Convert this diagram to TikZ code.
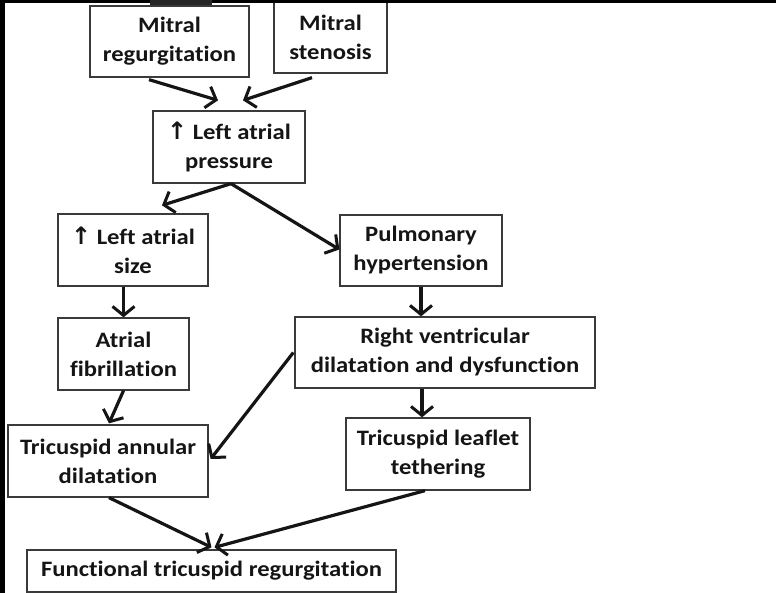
\documentclass[tikz,border=0pt]{standalone}
\usepackage{fontspec}
\setmainfont{Carlito}[FakeStretch=1.12,Ligatures={NoCommon,NoRequired,NoContextual}]
\newfontfamily\symfont{DejaVu Sans}
\usetikzlibrary{arrows.meta,calc}
\definecolor{boxline}{HTML}{3A3A3A}
\definecolor{ink}{HTML}{151515}
\newcommand{\upar}{{\symfont\fontsize{24}{29}\selectfont\raisebox{0pt}{↑}}}
\tikzset{
  box/.style={draw=boxline, line width=1.3pt, fill=white, align=center, inner sep=0pt,
    font=\bfseries\fontsize{22}{29}\selectfont, text=ink},
  arr/.style={draw=ink, line width=3.2pt, -{Straight Barb[length=9pt,width=22pt,line width=3pt]}}
}
\begin{document}
\begin{tikzpicture}[x=1pt,y=-1pt]
\useasboundingbox (0,0) rectangle (776,593);
\fill[white] (0,0) rectangle (776,593);
% boxes
\node[box, minimum width=159pt, minimum height=71pt] (MR) at (169.5,41.5) {Mitral\\regurgitation};
\node[box, minimum width=113pt, minimum height=71pt] (MS) at (330.5,37.5) {Mitral\\stenosis};
\node[box, minimum width=152pt, minimum height=72pt] (LAP) at (229,147) {\upar\ Left atrial\\pressure};
\node[box, minimum width=150pt, minimum height=72pt] (LAS) at (133,250) {\upar\ Left atrial\\size};
\node[box, minimum width=131pt, minimum height=72pt] (AF) at (123.5,354) {Atrial\\fibrillation};
\node[box, minimum width=162pt, minimum height=71pt] (PH) at (421,250.5) {Pulmonary\\hypertension};
\node[box, minimum width=300pt, minimum height=71pt] (RV) at (445,352.5) {Right ventricular\\dilatation and dysfunction};
\node[box, minimum width=200pt, minimum height=72pt] (TAD) at (108,461) {Tricuspid annular\\dilatation};
\node[box, minimum width=184pt, minimum height=72pt] (TLT) at (438,454) {Tricuspid leaflet\\tethering};
\node[box, minimum width=369pt, minimum height=42pt] (FTR) at (211.5,571) {Functional tricuspid regurgitation};
% helper points
\coordinate (rvs) at ($(RV.south)+(-23,0)$);
\coordinate (tlt) at (rvs |- TLT.north);
% connectors
\draw[arr] ($(MR.south)+(-20.5,2)$) -- ($(LAP.north)+(-11,-10)$);
\draw[arr] ($(MS.south)+(-18.5,4)$) -- ($(LAP.north)+(14,-10)$);
\draw[arr] ($(LAP.south)+(2,0)$) -- ($(LAS.north)+(29,-8)$);
\draw[arr] ($(LAP.south)+(2,0)$) -- ($(PH.west)+(0,-1)$);
\draw[arr] ($(LAS.south)+(-9.5,0)$) -- (AF.north);
\draw[arr] (PH.south) -- (PH.south |- RV.north);
\draw[arr] (AF.south) -- ($(TAD.north)+(1,-1)$);
\draw[arr] ($(RV.west)+(-1,0)$) -- ($(TAD.east)+(2,-2)$);
\draw[arr] (rvs) -- (tlt);
\draw[arr] ($(TAD.south)+(1,0)$) -- ($(FTR.north)+(0,-2)$);
\draw[arr] ($(TLT.south)+(-13,0)$) -- ($(FTR.north)+(3,-2)$);
% black edges of the scan
\fill[black] (0,0) rectangle (776,3);
\fill[black] (0,0) rectangle (5,593);
\fill[black!85] (150,0) rectangle (212,5);
\end{tikzpicture}
\end{document}
